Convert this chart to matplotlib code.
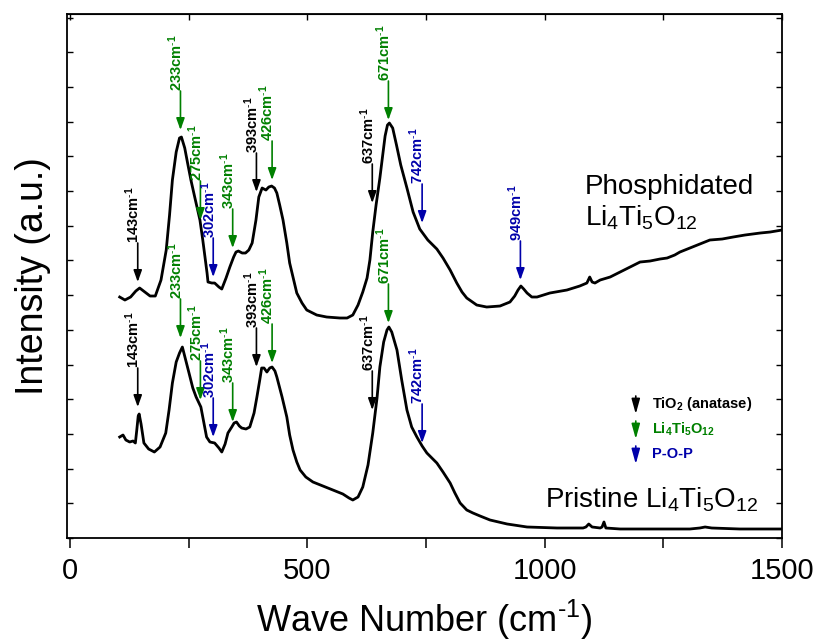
import numpy as np
import matplotlib
matplotlib.use("Agg")
import matplotlib.pyplot as plt
from matplotlib.ticker import MultipleLocator, FuncFormatter
from matplotlib.transforms import offset_copy

plt.rcParams['font.family'] = ['Liberation Sans', 'DejaVu Sans']
plt.rcParams['mathtext.fontset'] = 'custom'
plt.rcParams['mathtext.rm'] = 'Liberation Sans'
plt.rcParams['mathtext.bf'] = 'Liberation Sans:bold'
plt.rcParams['mathtext.it'] = 'Liberation Sans:italic'

# Raman spectrum, phosphidated sample (offset upwards)
wn_phos = [105, 116, 128, 139, 147, 158, 169, 180, 192, 203, 210, 216, 224, 231, 235,
           242, 248, 255, 263, 274, 280, 289, 291, 299, 305, 314, 320, 329, 337, 345,
           350, 355, 363, 370, 377, 384, 392, 398, 405, 413, 419, 425, 431, 436, 442,
           449, 457, 463, 472, 478, 489, 499, 520, 541, 569, 584, 596, 607, 617, 626,
           632, 638, 645, 653, 659, 664, 669, 673, 680, 688, 697, 710, 723, 737, 754,
           773, 786, 801, 815, 826, 836, 857, 878, 906, 927, 937, 944, 950, 956, 963,
           973, 984, 1011, 1047, 1074, 1089, 1093, 1095, 1100, 1106, 1117, 1138, 1159,
           1180, 1201, 1222, 1243, 1258, 1274, 1285, 1306, 1327, 1348, 1374, 1397, 1422,
           1454, 1475, 1500]
int_phos = [241, 238, 241, 247, 250, 246, 242, 242, 258, 288, 323, 358, 386, 400, 401,
            390, 375, 358, 341, 318, 298, 265, 256, 255, 255, 251, 249, 260, 271, 281,
            286, 287, 285, 285, 288, 295, 318, 341, 350, 348, 351, 352, 350, 345, 333,
            318, 295, 275, 257, 245, 235, 228, 223, 221, 220, 220, 223, 233, 246, 260,
            278, 306, 333, 360, 383, 402, 413, 415, 410, 393, 373, 350, 326, 309, 298,
            289, 280, 268, 255, 246, 240, 233, 231, 232, 236, 242, 248, 252, 249, 245,
            241, 241, 245, 248, 252, 255, 259, 261, 256, 255, 258, 261, 266,
            271, 276, 277, 279, 280, 283, 286, 290, 294, 298, 299, 301, 303,
            305, 306, 308]

# Raman spectrum, pristine sample
wn_pris = [105, 112, 118, 126, 133, 138, 141, 144, 146, 150, 156, 166, 178, 190, 202,
           209, 216, 224, 231, 237, 244, 251, 259, 266, 276, 282, 288, 295, 305, 314,
           320, 327, 333, 341, 346, 351, 357, 362, 371, 379, 388, 394, 400, 404, 409,
           415, 421, 426, 432, 436, 447, 457, 463, 470, 478, 485, 497, 512, 533, 554,
           575, 588, 596, 607, 617, 628, 638, 647, 653, 661, 668, 672, 678, 689, 699,
           710, 720, 731, 742, 752, 773, 786, 801, 811, 822, 836, 849, 864, 885, 921,
           963, 1026, 1081, 1087, 1093, 1100, 1117, 1121, 1125, 1129, 1159, 1243, 1306,
           1327, 1338, 1352, 1411, 1500]
int_pris = [101, 103, 98, 96, 97, 95, 108, 122, 124, 114, 95, 89, 86, 91, 105,
            128, 155, 176, 185, 191, 178, 165, 150, 141, 131, 116, 101, 96, 95, 90,
            86, 94, 105, 111, 115, 116, 112, 110, 109, 111, 125, 141, 158, 170, 170,
            166, 170, 171, 167, 161, 141, 121, 103, 88, 76, 68, 61, 56, 52, 48,
            44, 40, 38, 41, 51, 73, 105, 140, 171, 196, 208, 211, 206, 188, 158,
            128, 111, 101, 92, 85, 75, 66, 55, 45, 35, 28, 25, 22, 18, 14,
            11, 10, 10, 11, 14, 11, 10, 11, 16, 10, 9, 9, 9,
            10, 11, 10, 9, 9]

# assigned bands
bands_phos = [143, 233, 275, 302, 343, 393, 426, 637, 671, 742, 949]
phase_phos = ['tio2', 'lto', 'lto', 'pop', 'lto', 'tio2', 'lto', 'tio2', 'lto', 'pop', 'pop']
bands_pris = [143, 233, 275, 302, 343, 393, 426, 637, 671, 742]
phase_pris = ['tio2', 'lto', 'lto', 'pop', 'lto', 'tio2', 'lto', 'tio2', 'lto', 'pop']

# arrow tip heights (a.u.)
tips_phos = [256, 408, 318, 261, 290, 346, 358, 335, 418, 315, 258]
tips_pris = [131, 200, 138, 101, 116, 171, 175, 128, 215, 95]
arrow_len = 39

colores = {'tio2': 'black', 'lto': '#008000', 'pop': '#0000aa'}
leyenda = [('tio2', r'TiO$_\mathbf{2}$ (anatase)'),
           ('lto', r'Li$_\mathbf{4}$Ti$_\mathbf{5}$O$_\mathbf{12}$'),
           ('pop', 'P-O-P')]

fig = plt.figure(figsize=(8.18, 6.44), dpi=100)
ax = fig.add_axes([0.0819, 0.1646, 0.8741, 0.8136])

ax.plot(wn_phos, int_phos, color='black', lw=2.0)
ax.plot(wn_pris, int_pris, color='black', lw=2.0)

trans_txt = offset_copy(ax.transData, fig=fig, x=-5, y=0, units='dots')


def marcar(bandas, fases, puntas):
    for b, f, t in zip(bandas, fases, puntas):
        c = colores[f]
        ax.annotate('', xy=(b, t), xytext=(b, t + arrow_len),
                    arrowprops=dict(arrowstyle='-|>,head_length=0.7,head_width=0.25',
                                    color=c, lw=1.2, shrinkA=0, shrinkB=0))
        ax.text(b, t + arrow_len, str(b) + r'cm$^\mathbf{\text{-}1}$', color=c,
                fontsize=10.5, fontweight='bold', rotation=90,
                ha='center', va='bottom', transform=trans_txt)


marcar(bands_phos, phase_phos, tips_phos)
marcar(bands_pris, phase_pris, tips_pris)

# arrow legend
for i, (f, txt) in enumerate(leyenda):
    y = 134 - i * 25
    ax.annotate('', xy=(1192, y - 10), xytext=(1192, y + 8),
                arrowprops=dict(arrowstyle='-|>,head_length=0.9,head_width=0.25',
                                color=colores[f], lw=1.2, shrinkA=0, shrinkB=0))
    ax.text(1226, y, txt, color=colores[f], fontsize=10.5, fontweight='bold',
            ha='left', va='center')

ax.text(1085, 351, 'Phosphidated', fontsize=20, ha='left', va='center')
ax.text(1085, 320, r'Li$_4$Ti$_5$O$_{12}$', fontsize=20, ha='left', va='center')
ax.text(1000, 38, r'Pristine Li$_4$Ti$_5$O$_{12}$', fontsize=20, ha='left', va='center')

ax.set_xlim(-6, 1500)
ax.set_ylim(0, 524)
ax.xaxis.set_major_locator(MultipleLocator(500))
ax.xaxis.set_minor_locator(MultipleLocator(250))
ax.yaxis.set_major_locator(MultipleLocator(34.7))
ax.yaxis.set_major_formatter(FuncFormatter(lambda v, p: ''))
ax.tick_params(axis='x', which='both', direction='out', length=7, width=1.1,
               top=False, pad=7, labelsize=21)
ax.tick_params(axis='y', which='both', direction='in', length=4, width=1.0,
               left=True, right=True)
arriba = ax.secondary_xaxis('top')
arriba.xaxis.set_major_locator(MultipleLocator(250))
arriba.tick_params(direction='in', length=4, width=1.0, labeltop=False)
for s in ax.spines.values():
    s.set_linewidth(1.3)

ax.set_xlabel(r'Wave Number (cm$^{\text{-}1}$)', fontsize=26, labelpad=9)
ax.set_ylabel('Intensity (a.u.)', fontsize=27, labelpad=8)

plt.savefig('out.png', dpi=100)
